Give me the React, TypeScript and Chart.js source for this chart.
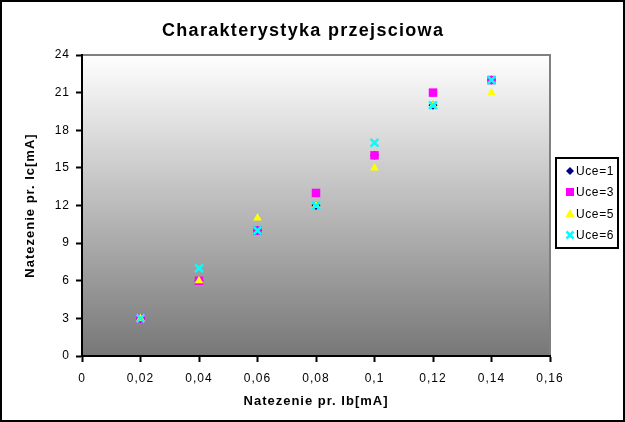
import React, { useEffect, useRef } from 'react';
import { Chart, registerables } from 'chart.js';

Chart.register(...registerables);

// ---- data ----
const xValues = [0.02, 0.04, 0.06, 0.08, 0.1, 0.12, 0.14];
const uce1 = [3, 6, 10, 12, 16, 20, 22];
const uce3 = [3, 6, 10, 13, 16, 21, 22];
const uce5 = [3, 6, 11, 12, 15, 20, 21];
const uce6 = [3, 7, 10, 12, 17, 20, 22];
const seriesNames = ['Uce=1', 'Uce=3', 'Uce=5', 'Uce=6'];
const xTicks = [0, 0.02, 0.04, 0.06, 0.08, 0.1, 0.12, 0.14, 0.16];
const xTickLabels = ['0', '0,02', '0,04', '0,06', '0,08', '0,1', '0,12', '0,14', '0,16'];
const yTicks = [0, 3, 6, 9, 12, 15, 18, 21, 24];
const yTickLabels = ['0', '3', '6', '9', '12', '15', '18', '21', '24'];
const titleText = 'Charakterystyka przejsciowa';
const xTitle = 'Natezenie pr. Ib[mA]';
const yTitle = 'Natezenie pr. Ic[mA]';

const FONT = "'Liberation Sans', Arial, Helvetica, sans-serif";
const colors = ['#000080', '#FF00FF', '#FFFF00', '#00FFFF'];

function toPoints(ys: number[]) {
  return xValues.map((x, i) => ({ x, y: ys[i] }));
}

function drawMarker(ctx: CanvasRenderingContext2D, kind: number, x: number, y: number) {
  ctx.save();
  ctx.fillStyle = colors[kind];
  ctx.strokeStyle = colors[kind];
  if (kind === 0) {
    ctx.beginPath();
    ctx.moveTo(x, y - 4);
    ctx.lineTo(x + 4, y);
    ctx.lineTo(x, y + 4);
    ctx.lineTo(x - 4, y);
    ctx.closePath();
    ctx.fill();
  } else if (kind === 1) {
    ctx.fillRect(x - 4, y - 4, 8, 8);
  } else if (kind === 2) {
    ctx.beginPath();
    ctx.moveTo(x, y - 4.5);
    ctx.lineTo(x + 4.5, y + 3.5);
    ctx.lineTo(x - 4.5, y + 3.5);
    ctx.closePath();
    ctx.fill();
  } else {
    ctx.lineWidth = 2.5;
    ctx.beginPath();
    ctx.moveTo(x - 3.5, y - 3.5);
    ctx.lineTo(x + 3.5, y + 3.5);
    ctx.moveTo(x + 3.5, y - 3.5);
    ctx.lineTo(x - 3.5, y + 3.5);
    ctx.stroke();
  }
  ctx.restore();
}

const decorPlugin = {
  id: 'decor',
  beforeDraw(chart: any) {
    const { ctx, chartArea, width, height } = chart;
    ctx.save();
    ctx.fillStyle = '#FFFFFF';
    ctx.fillRect(0, 0, width, height);
    const g = ctx.createLinearGradient(0, chartArea.top, 0, chartArea.bottom);
    g.addColorStop(0, '#FFFFFF');
    g.addColorStop(1, '#777777');
    ctx.fillStyle = g;
    ctx.fillRect(chartArea.left, chartArea.top, chartArea.right - chartArea.left, chartArea.bottom - chartArea.top);
    ctx.strokeStyle = '#808080';
    ctx.lineWidth = 2;
    ctx.beginPath();
    ctx.moveTo(chartArea.left, chartArea.top);
    ctx.lineTo(chartArea.right, chartArea.top);
    ctx.lineTo(chartArea.right, chartArea.bottom);
    ctx.stroke();
    ctx.restore();
    // wider letter spacing for axis text, like the original rendering
    (ctx as any).letterSpacing = '1px';
  },
  afterDraw(chart: any) {
    const { ctx, width, height } = chart;
    ctx.save();
    // outer frame
    ctx.strokeStyle = '#000000';
    ctx.lineWidth = 2;
    ctx.strokeRect(1, 1, width - 2, height - 2);
    // title
    ctx.fillStyle = '#000000';
    ctx.font = `bold 18px ${FONT}`;
    (ctx as any).letterSpacing = '1.3px';
    ctx.textAlign = 'left';
    ctx.textBaseline = 'alphabetic';
    ctx.fillText(titleText, 162, 36);
    // legend
    ctx.lineWidth = 2;
    ctx.strokeRect(556, 158, 62, 90);
    const rows = [171, 192, 213.5, 235];
    ctx.font = `12px ${FONT}`;
    (ctx as any).letterSpacing = '0.6px';
    ctx.textAlign = 'left';
    ctx.textBaseline = 'middle';
    seriesNames.forEach((name, i) => {
      drawMarker(ctx, i, 570, rows[i]);
      ctx.fillStyle = '#000000';
      ctx.fillText(name, 576, rows[i] + 1);
    });
    ctx.restore();
    (ctx as any).letterSpacing = '0px';
  },
};

export default function App() {
  const ref = useRef<HTMLCanvasElement | null>(null);
  useEffect(() => {
    if (!ref.current) return;
    const chart = new Chart(ref.current, {
      type: 'scatter',
      data: {
        datasets: [
          {
            label: seriesNames[0],
            data: toPoints(uce1),
            pointStyle: 'rectRot',
            pointRadius: 4.5,
            backgroundColor: colors[0],
            borderColor: colors[0],
            borderWidth: 0,
            order: 4,
          },
          {
            label: seriesNames[1],
            data: toPoints(uce3),
            pointStyle: 'rect',
            pointRadius: 6,
            backgroundColor: colors[1],
            borderColor: colors[1],
            borderWidth: 0,
            order: 3,
          },
          {
            label: seriesNames[2],
            data: toPoints(uce5),
            pointStyle: 'triangle',
            pointRadius: 5,
            backgroundColor: colors[2],
            borderColor: colors[2],
            borderWidth: 0,
            order: 2,
          },
          {
            label: seriesNames[3],
            data: toPoints(uce6),
            pointStyle: 'crossRot',
            pointRadius: 5.5,
            backgroundColor: colors[3],
            borderColor: colors[3],
            borderWidth: 2.5,
            order: 1,
          },
        ],
      },
      options: {
        responsive: false,
        animation: false,
        events: [],
        layout: { padding: { top: 55, right: 75, bottom: 0, left: 0 } },
        plugins: {
          legend: { display: false },
          title: { display: false },
          tooltip: { enabled: false },
        },
        scales: {
          x: {
            type: 'linear',
            min: 0,
            max: 0.16,
            afterBuildTicks: (s: any) => {
              s.ticks = xTicks.map((v) => ({ value: v }));
            },
            afterFit: (s: any) => {
              s.height = 66;
            },
            ticks: {
              callback: (_v: any, i: number) => xTickLabels[i],
              font: { family: FONT, size: 12 },
              color: '#000000',
              padding: 9,
              maxRotation: 0,
              autoSkip: false,
            },
            grid: {
              drawOnChartArea: false,
              drawTicks: true,
              tickLength: 6,
              tickColor: '#000000',
              tickWidth: 2,
            },
            border: { display: true, color: '#000000', width: 2 },
            title: {
              display: true,
              text: xTitle,
              color: '#000000',
              font: { family: FONT, size: 13, weight: 'bold' },
              padding: { top: 0, bottom: 13 },
            },
          },
          y: {
            type: 'linear',
            min: 0,
            max: 24,
            afterBuildTicks: (s: any) => {
              s.ticks = yTicks.map((v) => ({ value: v }));
            },
            afterFit: (s: any) => {
              s.width = 82;
            },
            ticks: {
              callback: (_v: any, i: number) => yTickLabels[i],
              font: { family: FONT, size: 12 },
              color: '#000000',
              padding: 6,
              autoSkip: false,
            },
            grid: {
              drawOnChartArea: false,
              drawTicks: true,
              tickLength: 6,
              tickColor: '#000000',
              tickWidth: 2,
            },
            border: { display: true, color: '#000000', width: 2 },
            title: {
              display: true,
              text: yTitle,
              color: '#000000',
              font: { family: FONT, size: 13, weight: 'bold' },
              padding: { top: 23, bottom: 0 },
            },
          },
        },
      },
      plugins: [decorPlugin],
    } as any);
    return () => chart.destroy();
  }, []);
  return (
    <div style={{ position: 'absolute', left: 0, top: 0, width: 625, height: 422 }}>
      <canvas ref={ref} width={625} height={422} style={{ display: 'block' }} />
    </div>
  );
}
